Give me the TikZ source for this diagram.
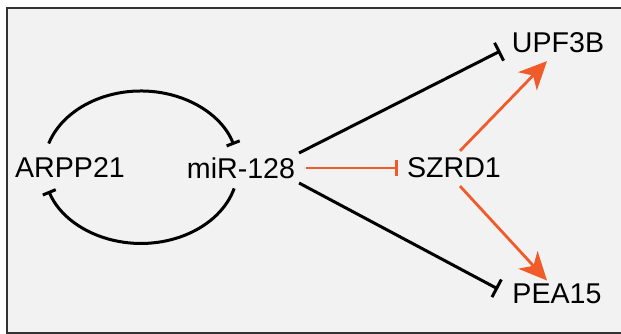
\documentclass[tikz,border=0pt]{standalone}
\usepackage{fontspec}
\setmainfont{Liberation Sans}
\usetikzlibrary{arrows.meta,calc}
\definecolor{panelbg}{HTML}{F2F2F2}
\definecolor{panelframe}{HTML}{333333}
\definecolor{actorange}{HTML}{F15A29}
\begin{document}
\begin{tikzpicture}[x=1pt,y=1pt,
  gene/.style={inner sep=0pt,outer sep=0pt,font=\fontsize{28.6}{30}\selectfont},
  inhib/.style={line width=3pt,black,-{Bar[width=20pt]}},
  loopinhib/.style={line width=3pt,black,-{Bar[width=14pt]}},
  orinhib/.style={line width=2.8pt,actorange,-{Bar[width=16pt]}},
  activ/.style={line width=2.8pt,actorange,-{Stealth[length=28pt,width=26pt,inset=8pt]}}]
\useasboundingbox (0,0) rectangle (621,334);
% panel
\draw[fill=panelbg,draw=panelframe,line width=2pt] (7,1) rectangle (624,326);
% genes
\node[gene] (arpp) at (70,166) {ARPP21};
\node[gene] (mir)  at (241,166) {miR-128};
\node[gene] (szrd) at (454,166) {SZRD1};
\node[gene] (upf)  at (558,291) {UPF3B};
\node[gene] (pea)  at (557,40.5) {PEA15};
% mutual repression loop
\draw[loopinhib] ($(arpp.north)+(-21.3,14.5)$) arc[start angle=162,end angle=17,x radius=97,y radius=76];
\draw[loopinhib] ($(mir.south)+(-6.8,-9.9)$) arc[start angle=-16,end angle=-162,x radius=97,y radius=76];
% miR-128 targets
\draw[inhib] ($(mir.east)+(4,15)$) -- ($(upf.west)+(-11.5,-8)$);
\draw[inhib] ($(mir.east)+(4,-15)$) -- ($(pea.west)+(-14.5,4.5)$);
\draw[orinhib] ($(mir.east)+(11,0)$) -- ($(szrd.west)+(-9,0)$);
% SZRD1 activation
\draw[activ] ($(szrd.north)+(6,7)$) -- ($(upf.south)+(-11,-8)$);
\draw[activ] ($(szrd.south)+(6,-8)$) -- ($(pea.north)+(-10,3)$);
\end{tikzpicture}
\end{document}
